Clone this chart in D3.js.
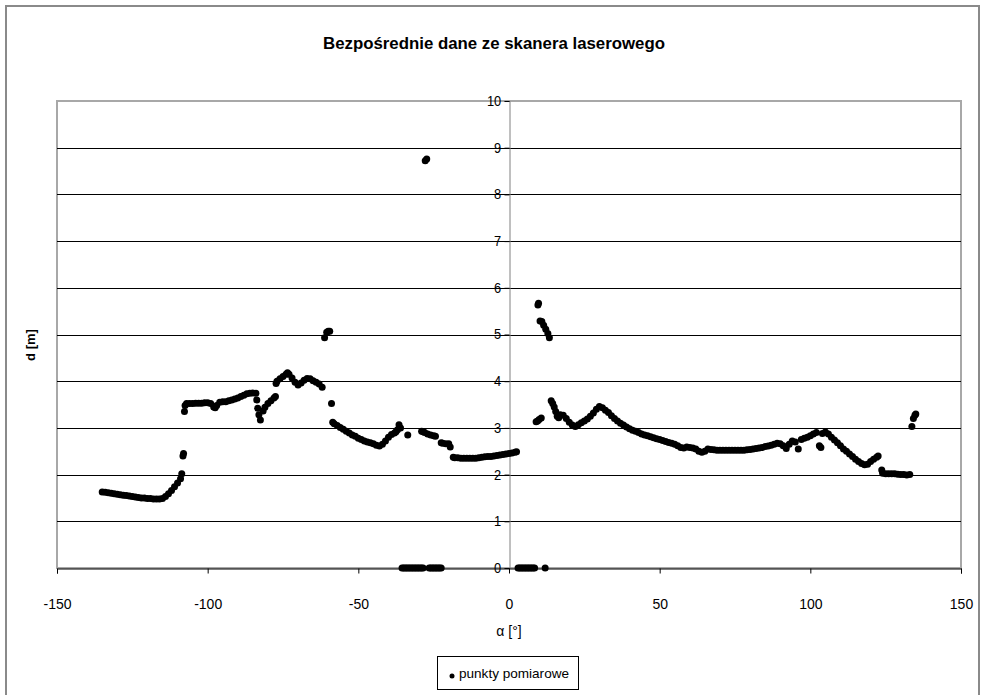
<!DOCTYPE html>
<html><head><meta charset="utf-8">
<script src="https://cdn.jsdelivr.net/npm/d3@7"></script>
<style>
body{margin:0;background:#fff}
text{font-family:"Liberation Sans",Arial,sans-serif;fill:#000}
</style>
</head><body>
<svg id="c" width="985" height="695"></svg>
<script>
const title = "Bezpośrednie dane ze skanera laserowego";
const xLabel = "α [°]";
const yLabel = "d [m]";
const seriesName = "punkty pomiarowe";
const xTicks = [-150, -100, -50, 0, 50, 100, 150];
const yTicks = [0, 1, 2, 3, 4, 5, 6, 7, 8, 9, 10];

// angle [deg] of each measurement point
const alpha = [
 -135,-134,-133,-132,-131,-130,-129,-128,-127,-126,-125,-124,-123,-122,-121,-120,-119,-118,-117,-116,-115,
 -114,-113,-112,-111,-110,-109,-108.6,-108.2,-108.0,
 -107.7,-107.5,-107,-106,-105,-104,-103,-102,-101,-100,-99,-98,-97.5,-97,-96,-95,-94,-93,-92,-91,-90,-89,-88,-87,-86,-85,-84,
 -83.7,-83.4,-83,-82.5,-81.6,-81,-80,-79,-78,-77.5,
 -77.3,-77,-76,-75,-74,-73.5,-73,-72,-71,-70,-69,-68,-67,-66,-65,-64,-63,-62,
 -61.2,-60.5,-60,-59.5,-58.9,
 -58.5,-58,-57,-56,-55,-54,-53,-52,-51,-50,-49,-48,-47,-46,-45,-44,-43,-42,-41,-40,-39,-38,-37.5,-37,-36.5,-36,
 -33.6,-29,-28.5,-28,-27,-26,-25,-24.4,-22.5,-22,-21,-20,-19.5,
 -18.5,-18,-17,-16,-15,-14,-13,-12,-11,-10,-9,-8,-7,-6,-5,-4,-3,-2,-1,0,1,2,2.5,
 -35.5,-35,-34.5,-34,-33.5,-33,-32.5,-32,-31.5,-31,-30.5,-30,-29.5,-29,-28.5,
 -26.5,-26,-25.5,-25,-24.5,-24,-23.5,-23,-22.5,
 3,3.5,4,4.5,5,5.5,6,6.5,7,7.5,8,8.5,12,
 -27.8,-27.3,
 9,9.5,10,10.7,
 9.6,9.8,10.3,10.9,11.5,12.2,12.9,13.4,
 14,14.5,15,15.5,16,16.5,17,18,19,20,21,22,23,24,25,26,27,28,29,30,31,32,33,34,35,36,37,38,39,40,
 41,42,43,44,45,46,47,48,49,50,51,52,53,54,55,56,57,58,59,60,61,62,63,64,65,66,67,68,69,70,
 71,72,73,74,75,76,77,78,79,80,81,82,83,84,85,86,87,88,89,90,91,92,93,94,95,96,97,98,99,100,
 101,102,103,103.5,104,105,106,107,108,109,110,111,112,113,114,115,116,117,118,119,120,121,122,122.5,
 123.7,124,125,126,127,128,129,130,131,132,133,
 133.7,134.2,134.7,135
];

// measured distance [m] for each angle above
const dist = [
 1.63,1.62,1.61,1.60,1.59,1.58,1.57,1.56,1.55,1.54,1.53,1.52,1.51,1.50,1.50,1.49,1.49,1.48,1.48,1.48,1.49,
 1.53,1.59,1.66,1.74,1.82,1.91,2.02,2.40,2.45,
 3.35,3.48,3.52,3.52,3.52,3.53,3.53,3.53,3.54,3.54,3.52,3.45,3.43,3.48,3.55,3.56,3.56,3.58,3.60,3.62,3.64,3.67,3.70,3.73,3.74,3.75,3.74,
 3.60,3.42,3.28,3.17,3.36,3.44,3.52,3.58,3.64,3.67,
 3.95,4.00,4.05,4.10,4.15,4.18,4.15,4.07,3.98,3.92,3.96,4.02,4.06,4.05,4.01,3.98,3.94,3.87,
 4.93,5.05,5.07,5.07,3.52,
 3.12,3.09,3.05,3.01,2.97,2.93,2.89,2.85,2.82,2.78,2.75,2.72,2.70,2.68,2.66,2.63,2.61,2.65,2.72,2.80,2.86,2.89,2.92,2.96,3.07,3.00,
 2.85,2.93,2.92,2.90,2.87,2.85,2.83,2.82,2.68,2.67,2.66,2.66,2.59,
 2.37,2.36,2.36,2.35,2.35,2.35,2.35,2.35,2.35,2.36,2.37,2.38,2.39,2.39,2.40,2.41,2.42,2.43,2.44,2.45,2.46,2.48,2.49,
 0,0,0,0,0,0,0,0,0,0,0,0,0,0,0,
 0,0,0,0,0,0,0,0,0,
 0,0,0,0,0,0,0,0,0,0,0,0,0,
 8.72,8.76,
 3.13,3.15,3.18,3.21,
 5.63,5.67,5.29,5.28,5.20,5.11,5.02,4.93,
 3.58,3.52,3.45,3.35,3.25,3.22,3.28,3.27,3.20,3.12,3.06,3.03,3.07,3.11,3.15,3.19,3.25,3.32,3.40,3.46,3.43,3.38,3.33,3.26,3.20,3.15,3.10,3.06,3.02,2.98,
 2.95,2.93,2.90,2.87,2.85,2.83,2.81,2.79,2.77,2.75,2.73,2.71,2.69,2.67,2.65,2.62,2.58,2.57,2.59,2.58,2.57,2.55,2.50,2.48,2.50,2.55,2.54,2.53,2.52,2.52,
 2.52,2.52,2.52,2.52,2.52,2.52,2.52,2.52,2.53,2.54,2.55,2.56,2.57,2.58,2.60,2.61,2.63,2.65,2.67,2.66,2.62,2.56,2.65,2.72,2.70,2.55,2.75,2.78,2.80,2.83,
 2.87,2.90,2.62,2.58,2.88,2.91,2.87,2.80,2.74,2.68,2.62,2.55,2.50,2.44,2.39,2.33,2.28,2.24,2.21,2.22,2.28,2.33,2.37,2.40,
 2.10,2.03,2.02,2.02,2.02,2.02,2.01,2.00,2.00,1.99,2.00,
 3.03,3.20,3.27,3.30
];

const points = alpha.map((a, i) => ({a, d: dist[i]}));

const svg = d3.select("#c");
const plot = {left: 57, right: 961, top: 101, bottom: 568};
const FONT = '"Liberation Sans",Arial,sans-serif';

const x = d3.scaleLinear().domain([-150, 150]).range([plot.left, plot.right]);
const y = d3.scaleLinear().domain([0, 10]).range([plot.bottom, plot.top]);

// outer chart border
svg.append("rect").attr("x", 6).attr("y", 6).attr("width", 973).attr("height", 700)
  .attr("fill", "#fff").attr("stroke", "#8a8a8a").attr("stroke-width", 2);

// title
svg.append("text").attr("x", 494).attr("y", 49).attr("text-anchor", "middle")
  .attr("font-size", 17).attr("font-weight", "bold")
  .attr("textLength", 342).attr("lengthAdjust", "spacingAndGlyphs").text(title);

// plot area
svg.append("rect").attr("x", plot.left).attr("y", plot.top)
  .attr("width", plot.right - plot.left).attr("height", plot.bottom - plot.top)
  .attr("fill", "#fff").attr("stroke", "#a8a8a8").attr("stroke-width", 2);

// horizontal gridlines
svg.append("g").selectAll("line").data(yTicks.filter(t => t > 0 && t < 10)).join("line")
  .attr("x1", plot.left).attr("x2", plot.right)
  .attr("y1", d => Math.round(y(d)) + 0.5).attr("y2", d => Math.round(y(d)) + 0.5)
  .attr("stroke", "#000").attr("stroke-width", 1);

// y axis at alpha = 0
const x0 = Math.round(x(0)) + 0.5;
const yAxis = svg.append("g").attr("transform", `translate(${x0},0)`)
  .call(d3.axisLeft(y).tickValues(yTicks).tickSize(5).tickPadding(4).tickFormat(d => String(d)));
yAxis.select(".domain").attr("stroke", "#808080");
yAxis.selectAll(".tick line").attr("stroke", "#000");
yAxis.selectAll("text").attr("font-size", 14).attr("font-family", FONT)
  .attr("transform", "scale(0.92,1)").attr("dx", 0);

// x axis at d = 0
const xAxis = svg.append("g").attr("transform", `translate(0,${Math.round(y(0)) + 0.5})`)
  .call(d3.axisBottom(x).tickValues(xTicks).tickSize(5).tickPadding(26).tickFormat(d => String(d)));
xAxis.select(".domain").attr("stroke", "#000");
xAxis.selectAll(".tick line").attr("stroke", "#000");
xAxis.selectAll("text").attr("font-size", 14).attr("font-family", FONT);

// axis titles
svg.append("text").attr("x", x(0)).attr("y", 636).attr("text-anchor", "middle")
  .attr("font-size", 14).text(xLabel);
svg.append("text").attr("transform", "translate(35,345) rotate(-90)").attr("text-anchor", "middle")
  .attr("font-size", 13).attr("font-weight", "bold").text(yLabel);

// points
svg.append("g").selectAll("circle").data(points).join("circle")
  .attr("cx", p => x(p.a)).attr("cy", p => y(p.d)).attr("r", 3.5).attr("fill", "#000");

// legend
const lg = svg.append("g");
lg.append("rect").attr("x", 437.5).attr("y", 656.5).attr("width", 141).attr("height", 33)
  .attr("fill", "#fff").attr("stroke", "#000").attr("stroke-width", 1);
lg.append("circle").attr("cx", 452).attr("cy", 676).attr("r", 2.5).attr("fill", "#000");
lg.append("text").attr("x", 459).attr("y", 678).attr("font-size", 13)
  .attr("textLength", 110).attr("lengthAdjust", "spacingAndGlyphs").text(seriesName);
</script>
</body></html>
